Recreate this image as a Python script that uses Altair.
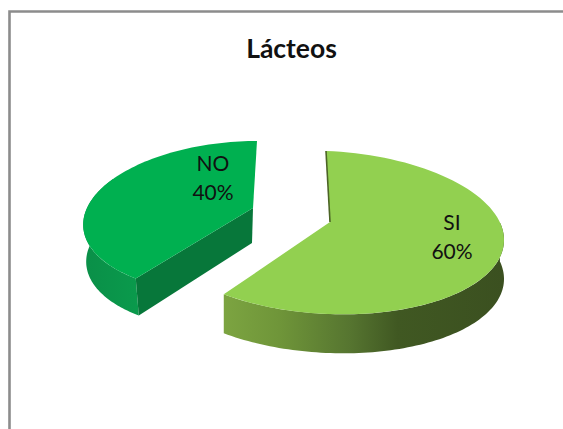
import math
import altair as alt
import pandas as pd

# Survey shares per answer
answers = ["SI", "NO"]
shares = [60, 40]
chart_title = "Lácteos"

W, H = 563, 429
x_scale = alt.Scale(domain=[0, W], range=[0, W])
y_scale = alt.Scale(domain=[0, H], range=[0, H])
ENC = dict(
    x=alt.X("x:Q", scale=x_scale, axis=None),
    y=alt.Y("y:Q", scale=y_scale, axis=None),
    order="i:Q",
)

# Oblique projection of each exploded slice: centre, axes, shear, apex, extrusion
GEOM = {
    "SI": dict(cx=327, cy=232.5, a=177, b=-1, c=81.5, d=7, apex=(330, 222), shift=(0, 39)),
    "NO": dict(cx=241, cy=217, a=157, b=16, c=76, d=0, apex=(253, 208), shift=(3, 37),
               apex_drop=(-1, 35)),
}


def rim(g, deg):
    t = math.radians(deg)
    return (g["cx"] + g["a"] * math.sin(t) + g["b"] * math.cos(t),
            g["cy"] - g["c"] * math.cos(t) + g["d"] * math.sin(t))


def arc(g, start, end, n=90):
    return [rim(g, start + (end - start) * k / n) for k in range(n + 1)]


def moved(points, g):
    return [(px + g["shift"][0], py + g["shift"][1]) for px, py in points]


def poly(points, **mark):
    df = pd.DataFrame([{"x": p[0], "y": p[1], "i": k} for k, p in enumerate(points + points[:1])])
    return alt.Chart(df).mark_line(strokeWidth=0, **mark).encode(**ENC)


def ramp(stops):
    return alt.Gradient(gradient="linear", x1=0, x2=1, y1=0, y2=0,
                        stops=[alt.GradientStop(offset=o, color=c) for o, c in stops])


# Clockwise from twelve o'clock, the first answer starts at 0 degrees
end_si = 360 * shares[0] / sum(shares)
si, no = GEOM["SI"], GEOM["NO"]

si_rim = arc(si, 0, end_si)
no_rim = arc(no, end_si, 360)

si_side = arc(si, 78, end_si)
no_side = arc(no, end_si, 300)

ax, ay = no["apex"]
tip = rim(no, end_si)
no_wall = [no["apex"], tip, moved([tip], no)[0],
           (ax + no["apex_drop"][0], ay + no["apex_drop"][1])]

layers = [
    # NO slice: outer band, cut wall, top face
    poly(no_side + moved(no_side, no)[::-1],
         fill=ramp([(0, "#0a8f48"), (1, "#0a9a4c")])),
    poly(no_wall, fill="#07773a"),
    poly([no["apex"]] + no_rim, fill="#00b050"),
    # SI slice: outer band, top face, thin visible cut wall
    poly(si_side + moved(si_side, si)[::-1],
         fill=ramp([(0, "#7ca441"), (0.2, "#6f9539"), (0.45, "#567530"),
                    (0.62, "#405822"), (1, "#3b5020")])),
    poly([si["apex"]] + si_rim, fill="#92d050"),
    alt.Chart(pd.DataFrame({"x": [rim(si, 0)[0], si["apex"][0]],
                            "y": [rim(si, 0)[1], si["apex"][1]], "i": [0, 1]}))
    .mark_line(stroke="#4c6426", strokeWidth=1.6).encode(**ENC),
]

# Category and percentage labels
label_anchor = {"SI": (452, 224), "NO": (213, 165)}
labels = pd.DataFrame([
    {"x": label_anchor[n][0], "y": label_anchor[n][1], "t": [n, f"{v}%"]}
    for n, v in zip(answers, shares)
])
layers.append(
    alt.Chart(labels).mark_text(font="Lato", fontSize=21, color="#111111", lineHeight=29,
                                align="center", baseline="middle")
    .encode(x=ENC["x"], y=ENC["y"], text="t:N")
)
layers.append(
    alt.Chart(pd.DataFrame({"x": [291.5], "y": [50], "t": [chart_title]}))
    .mark_text(font="Lato", fontSize=26.5, fontWeight="bold", color="#111111",
               align="center", baseline="middle")
    .encode(x=ENC["x"], y=ENC["y"], text="t:N")
)

# Chart frame, open at the bottom and right where the figure is cropped
frame = pd.DataFrame({"x": [9.5, 9.5, 563], "y": [429, 11.5, 11.5], "i": [0, 1, 2]})
layers.append(alt.Chart(frame).mark_line(stroke="#8c8c8c", strokeWidth=2.6).encode(**ENC))

chart = (
    alt.layer(*layers)
    .properties(width=W, height=H, padding=0, autosize=alt.AutoSizeParams(type="none"))
    .configure_view(stroke=None)
)
chart.save("out.html", embed_options={"renderer": "svg", "actions": False})
